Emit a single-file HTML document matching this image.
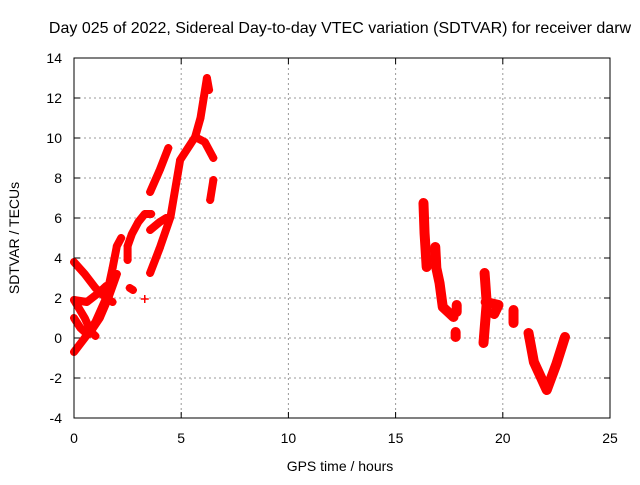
<!DOCTYPE html>
<html><head><meta charset="utf-8"><style>
body{margin:0;background:#fff}
svg text{font-family:"Liberation Sans",sans-serif;fill:#000}
</style></head><body>
<svg id="chart" width="640" height="480" xmlns="http://www.w3.org/2000/svg">
<rect width="640" height="480" fill="#fff"/>
<text x="340" y="33" font-size="16" text-anchor="middle">Day 025 of 2022, Sidereal Day-to-day VTEC variation (SDTVAR) for receiver darw</text>
<text x="340" y="471" font-size="14" text-anchor="middle">GPS time / hours</text>
<text x="19" y="238" font-size="14" text-anchor="middle" transform="rotate(-90 19 238)">SDTVAR / TECUs</text>
<g id="grid"></g><g id="marks"></g>
<rect x="74" y="58" width="536" height="360" fill="none" stroke="#000" stroke-width="1"/>
</svg>
<script>
const xTicks=[0,5,10,15,20,25];
const yTicks=[-4,-2,0,2,4,6,8,10,12,14];
const t1=[[0,-0.7],[0.5,0],[1,0.8],[1.5,2],[1.8,3.5],[2.0,4.6],[2.2,5.0]];
const t2=[[0.7,0.2],[1.2,1],[1.6,2],[2.0,3.2]];
const t3=[[0,3.8],[0.5,3.2],[1,2.5],[1.5,2.0],[1.8,1.8]];
const t4=[[0,1.9],[0.5,1.0],[0.8,0.3],[1.0,0.1]];
const t5=[[0,1.0],[0.3,0.5],[0.6,0.2]];
const t6=[[0,1.9],[0.6,1.8],[1.2,2.3],[1.5,2.6]];
const t7=[[2.5,3.9],[2.5,4.6],[2.7,5.2],[3.0,5.8],[3.3,6.2],[3.6,6.2]];
const t8=[[3.55,3.25],[4.0,4.5],[4.5,6.05],[4.95,8.9],[5.65,10.05],[5.9,11],[6.2,13],[6.3,12.4]];
const t8b=[[5.65,10.05],[6.1,9.8],[6.5,9.0]];
const t8c=[[3.55,5.4],[4.0,5.8],[4.3,6.0]];
const t9=[[3.55,7.3],[4.0,8.4],[4.4,9.5]];
const t10=[[6.35,6.9],[6.5,7.9]];
const t11=[[2.6,2.5],[2.75,2.4]];
const t12=[[3.3,1.95]];
const r1=[[16.3,6.75],[16.35,5.25],[16.45,3.55]];
const r1b=[[16.85,4.55],[16.9,3.5],[17.05,2.75],[17.2,1.55],[17.7,1.05]];
const r1c=[[17.85,1.65],[17.85,1.3]];
const r1d=[[17.8,0.05],[17.8,0.3]];
const r2=[[19.15,3.25],[19.25,1.75],[19.1,-0.25]];
const r2b=[[19.2,1.8],[19.8,1.65],[19.6,1.2]];
const r3=[[20.5,1.4],[20.5,0.75]];
const r4=[[21.2,0.25],[21.45,-1.2],[22.05,-2.6],[22.5,-1.3],[22.9,0.05]];
const series=[t1,t2,t3,t4,t5,t6,t7,t8,t8b,t8c,t9,t10,t11,t12,r1,r1b,r1c,r1d,r2,r2b,r3,r4];
const X=v=>74+v*536/25, Y=v=>418-(v+4)*20;
const NS="http://www.w3.org/2000/svg";
const grid=document.getElementById('grid'), marks=document.getElementById('marks');
function mk(tag,attrs,parent){const e=document.createElementNS(NS,tag);for(const k in attrs)e.setAttribute(k,attrs[k]);parent.appendChild(e);return e;}
xTicks.forEach(t=>{
 const x=X(t);
 if(t>0&&t<25){const g=mk('line',{x1:x,x2:x,y1:58,y2:418,stroke:'#999','stroke-dasharray':'2,3'},grid);
 
 }
 mk('line',{x1:x,x2:x,y1:418,y2:412,stroke:'#000'},grid);
 mk('line',{x1:x,x2:x,y1:58,y2:64,stroke:'#000'},grid);
 const tx=mk('text',{x:x,y:443,'font-size':14,'text-anchor':'middle'},grid);
 tx.textContent=t;
 
 
});
yTicks.forEach(t=>{
 const y=Y(t);
 if(t>-4&&t<14){const g=mk('line',{x1:74,x2:610,y1:y,y2:y,stroke:'#999','stroke-dasharray':'2,3'},grid);
 
 }
 mk('line',{x1:74,x2:80,y1:y,y2:y,stroke:'#000'},grid);
 mk('line',{x1:604,x2:610,y1:y,y2:y,stroke:'#000'},grid);
 const tx=mk('text',{x:62,y:y+5,'font-size':14,'text-anchor':'end'},grid);
 tx.textContent=t;
 
 
});
series.forEach(s=>{
 const wide=s[0][0]>15;
 if(s.length>1){
  const p=mk('polyline',{points:s.map(d=>X(d[0])+','+Y(d[1])).join(' '),fill:'none',stroke:'#f00','stroke-width':wide?10:8,'stroke-linejoin':'round','stroke-linecap':'round'},marks);
  
  
 }
 s.forEach(d=>{
  const x=X(d[0]),y=Y(d[1]);
  const m=mk('path',{d:`M${x-4},${y}H${x+4}M${x},${y-4}V${y+4}`,stroke:'#f00','stroke-width':1.5},marks);
  
  
 });
});
</script>
</body></html>
